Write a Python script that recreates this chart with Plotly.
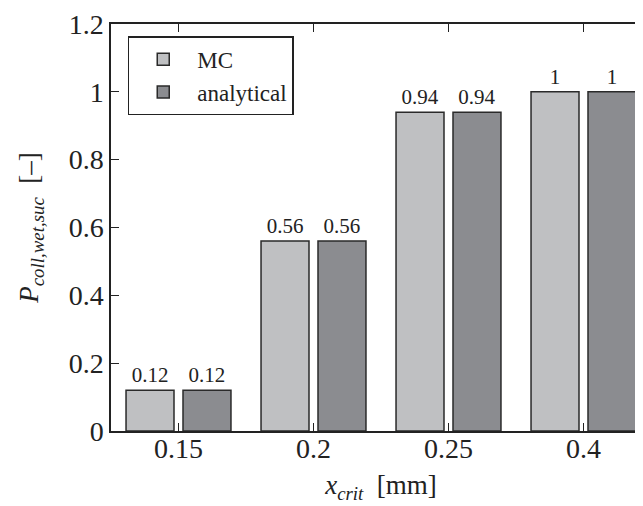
import plotly.graph_objects as go

categories = ["0.15", "0.2", "0.25", "0.4"]
mc_values = [0.12, 0.56, 0.94, 1]
analytical_values = [0.12, 0.56, 0.94, 1]
y_ticks = [0, 0.2, 0.4, 0.6, 0.8, 1, 1.2]
y_tick_labels = ["0", "0.2", "0.4", "0.6", "0.8", "1", "1.2"]

FONT = "Liberation Serif, Times New Roman, serif"
edge = dict(color="#2a2a2a", width=1.5)

fig = go.Figure()
fig.add_trace(go.Bar(
    x=categories, y=mc_values, name="MC",
    marker=dict(color="#bfc0c2", line=edge),
    text=[f"{v:g}" for v in mc_values], textposition="outside",
    textfont=dict(family=FONT, size=21, color="#222"), cliponaxis=False,
))
fig.add_trace(go.Bar(
    x=categories, y=analytical_values, name="analytical",
    marker=dict(color="#8b8c90", line=edge),
    text=[f"{v:g}" for v in analytical_values], textposition="outside",
    textfont=dict(family=FONT, size=21, color="#222"), cliponaxis=False,
))

fig.update_layout(
    width=643, height=506,
    margin=dict(l=103, r=0, t=16, b=83),
    paper_bgcolor="white", plot_bgcolor="white",
    barmode="group", bargap=0.156, bargroupgap=0.158,
    font=dict(family=FONT, size=28, color="#222"),
    showlegend=True,
    legend=dict(
        x=0.031, y=0.97, xanchor="left", yanchor="top",
        bordercolor="#222", borderwidth=1.5, bgcolor="white",
        font=dict(family=FONT, size=23, color="#222"),
        itemwidth=58,
    ),
)
fig.update_xaxes(
    type="category", range=[-0.5, 3.5], automargin=False,
    showline=True, linecolor="#222", linewidth=1.5, mirror="ticks",
    ticks="inside", ticklen=8, tickcolor="#222", tickwidth=1,
    ticklabelstandoff=-8,
    showgrid=False, tickfont=dict(size=28),
    title=dict(text="<i>x</i><sub><i>crit</i></sub>  [mm]", font=dict(size=27), standoff=12),
)
fig.update_yaxes(
    range=[0, 1.2], tickvals=y_ticks, ticktext=y_tick_labels, automargin=False,
    showline=True, linecolor="#222", linewidth=1.5, mirror=False,
    ticks="inside", ticklen=8, tickcolor="#222", tickwidth=1,
    showgrid=False, zeroline=False, tickfont=dict(size=28),
    title=dict(text="<i>P</i><sub><i>coll,wet,suc</i></sub>  [–]", font=dict(size=27), standoff=22),
)

fig.write_html("out.html")
